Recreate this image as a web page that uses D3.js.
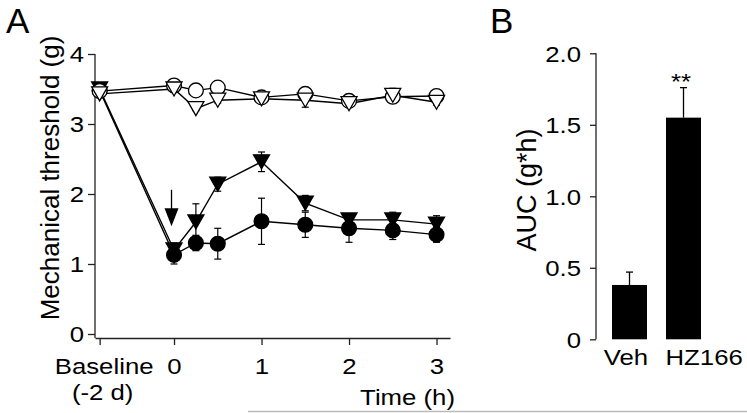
<!DOCTYPE html>
<html><head><meta charset="utf-8">
<script src="https://cdn.jsdelivr.net/npm/d3@7"></script>
<style>
body{margin:0;background:#fff}
svg{display:block}
text{font-family:"Liberation Sans",Arial,Helvetica,sans-serif;fill:#000}
</style>
</head><body>
<svg id="c" width="747" height="413"></svg>
<script>
// ---------- Panel A data ----------
const timePoints = ["Baseline", 0, 0.25, 0.5, 1, 1.5, 2, 2.5, 3];
const baselineHour = -0.85; // plotting position of the "Baseline (-2 d)" category
const filledCircle    = [3.48, 1.13, 1.30, 1.29, 1.61, 1.56, 1.51, 1.48, 1.42];
const filledCircleErr = [0.03, 0.13, 0.11, 0.22, 0.33, 0.18, 0.20, 0.13, 0.11];
const filledTri       = [3.50, 1.20, 1.60, 2.14, 2.46, 1.87, 1.63, 1.63, 1.57];
const filledTriErr    = [0.03, 0.10, 0.26, 0.10, 0.14, 0.11, 0.07, 0.11, 0.12];
const openCircle      = [3.47, 3.55, 3.48, 3.52, 3.38, 3.43, 3.33, 3.39, 3.40];
const openCircleErr   = [0.03, 0.05, 0.03, 0.03, 0.05, 0.06, 0.05, 0.05, 0.04];
const openTri         = [3.43, 3.50, 3.22, 3.34, 3.36, 3.34, 3.29, 3.41, 3.31];
const openTriErr      = [0.03, 0.05, 0.03, 0.04, 0.04, 0.10, 0.05, 0.10, 0.04];
const yTicksA = [0, 1, 2, 3, 4];
const xTickHours = [0, 1, 2, 3];
const arrowHour = 0, arrowFrom = 2.06, arrowTo = 1.54;

// ---------- Panel B data ----------
const groupsB = ["Veh", "HZ166"];
const aucB = [0.38, 1.55];
const aucErrB = [0.09, 0.21];
const yTicksB = [0, 0.5, 1.0, 1.5, 2.0];

const svg = d3.select("#c");
const AX = "#222";
const STRETCH = 1.12;
const FS = 23;

function stretchText(sel, s){
  sel.each(function(){
    const t = d3.select(this);
    const x = +t.attr("x") || 0, y = +t.attr("y") || 0;
    t.attr("x", 0).attr("y", 0).attr("transform", `translate(${x},${y}) scale(${s},1)`);
  });
}
function label(g, txt, x, y, anchor, size, s){
  return g.append("text").text(txt)
    .attr("text-anchor", anchor).attr("font-size", size)
    .attr("transform", `translate(${x},${y}) scale(${s},1)`);
}

// ===== Panel A =====
const xA = d3.scaleLinear().domain([-0.903, 3.154]).range([95, 450]);
const yA = d3.scaleLinear().domain([0, 4]).range([334, 54]);
const xAxisY = 338;
const gA = svg.append("g");
const xpos = t => xA(t === "Baseline" ? baselineHour : t);

// y axis
const yAxG = gA.append("g").attr("transform", "translate(95,0)")
  .call(d3.axisLeft(yA).tickValues(yTicksA).tickSize(7).tickPadding(4).tickFormat(d3.format("d")));
yAxG.select(".domain").remove();
yAxG.selectAll("line").attr("stroke", AX).attr("stroke-width", 1.3);
yAxG.selectAll("text").attr("font-size", FS).attr("dy", "0.34em").call(stretchText, STRETCH);
yAxG.attr("font-family", null);
gA.append("line").attr("x1", 95).attr("x2", 95).attr("y1", yA(4)).attr("y2", xAxisY)
  .attr("stroke", AX).attr("stroke-width", 1.3);

// x axis
const xAxG = gA.append("g").attr("transform", `translate(0,${xAxisY})`)
  .call(d3.axisBottom(xA).tickValues([baselineHour, ...xTickHours]).tickSize(7).tickSizeOuter(0)
    .tickFormat(d => d === baselineHour ? "Baseline" : d3.format("d")(d)));
xAxG.select(".domain").attr("stroke", AX).attr("stroke-width", 1.3);
xAxG.selectAll("line").attr("stroke", AX).attr("stroke-width", 1.3);
xAxG.selectAll("text").attr("font-size", FS).attr("dy", 0).attr("y", 36)
  .attr("x", d => d === baselineHour ? 4 : 0).call(stretchText, STRETCH);
xAxG.attr("font-family", null);
label(gA, "(-2 d)", xA(baselineHour) + 3, 400, "middle", FS, STRETCH);
label(gA, "Time (h)", 455, 405, "end", FS, STRETCH);

// y title
gA.append("text").text("Mechanical threshold (g)")
  .attr("font-size", 26).attr("text-anchor", "middle")
  .attr("transform", "translate(59,178) rotate(-90)");

// panel letter
gA.append("text").text("A").attr("x", 6).attr("y", 33).attr("font-size", 35);

// series
const series = [
  {v: filledCircle, e: filledCircleErr, shape: "circle", fill: "#000"},
  {v: filledTri,    e: filledTriErr,    shape: "tri",    fill: "#000"},
  {v: openCircle,   e: openCircleErr,   shape: "circle", fill: "#fff"},
  {v: openTri,      e: openTriErr,      shape: "tri",    fill: "#fff"}
];
const rows = s => timePoints.map((t, i) => ({t, v: s.v[i], e: s.e[i]}));
const line = d3.line().x(d => xpos(d.t)).y(d => yA(d.v));
const cap = 3.5;

const errG = gA.append("g").attr("stroke", "#000").attr("stroke-width", 1.2);
series.forEach(s => {
  rows(s).forEach(d => {
    const x = xpos(d.t), y1 = yA(d.v - d.e), y2 = yA(d.v + d.e);
    errG.append("line").attr("x1", x).attr("x2", x).attr("y1", y1).attr("y2", y2);
    errG.append("line").attr("x1", x - cap).attr("x2", x + cap).attr("y1", y1).attr("y2", y1);
    errG.append("line").attr("x1", x - cap).attr("x2", x + cap).attr("y1", y2).attr("y2", y2);
  });
});
series.forEach(s => {
  gA.append("path").datum(rows(s)).attr("d", line)
    .attr("fill", "none").attr("stroke", "#000").attr("stroke-width", 1.4);
});
series.forEach(s => {
  const g = gA.append("g");
  rows(s).forEach(d => {
    const x = xpos(d.t), y = yA(d.v);
    if (s.shape === "circle") {
      g.append("circle").attr("cx", x).attr("cy", y).attr("r", 7.4)
        .attr("fill", s.fill).attr("stroke", "#000").attr("stroke-width", 1.3);
    } else {
      g.append("path").attr("d", `M${x-8},${y-7}L${x+8},${y-7}L${x},${y+7}Z`)
        .attr("fill", s.fill).attr("stroke", "#000").attr("stroke-width", 1.3).attr("stroke-linejoin", "miter");
    }
  });
});

// arrow
{
  const ax = xA(arrowHour) - 2.5, yTop = yA(arrowFrom), yTip = yA(arrowTo);
  gA.append("line").attr("x1", ax).attr("x2", ax).attr("y1", yTop).attr("y2", yTip - 16)
    .attr("stroke", "#000").attr("stroke-width", 1.3);
  gA.append("path").attr("d", `M${ax-7},${yTip-18}L${ax+7},${yTip-18}L${ax},${yTip}Z`).attr("fill", "#000");
}

// ===== Panel B =====
const xB = d3.scalePoint().domain(groupsB).range([629.5, 683.5]);
const yB = d3.scaleLinear().domain([0, 2]).range([339.3, 53.3]);
const gB = svg.append("g");
const barW = 35;

const yAxB = gB.append("g").attr("transform", "translate(596,0)")
  .call(d3.axisLeft(yB).tickValues(yTicksB).tickSize(6).tickPadding(9)
    .tickFormat(d => d === 0 ? "0" : d3.format(".1f")(d)));
yAxB.select(".domain").remove();
yAxB.selectAll("line").attr("stroke", AX).attr("stroke-width", 1.3);
yAxB.selectAll("text").attr("font-size", FS).attr("dy", "0.34em").call(stretchText, STRETCH);
yAxB.attr("font-family", null);
gB.append("line").attr("x1", 596).attr("x2", 596).attr("y1", yB(2)).attr("y2", yB(0))
  .attr("stroke", AX).attr("stroke-width", 1.3);

groupsB.forEach((g, i) => {
  const cx = xB(g);
  const top = yB(aucB[i] + aucErrB[i]);
  gB.append("line").attr("x1", cx).attr("x2", cx).attr("y1", yB(aucB[i])).attr("y2", top)
    .attr("stroke", "#000").attr("stroke-width", 1.3);
  gB.append("line").attr("x1", cx - 3.5).attr("x2", cx + 3.5).attr("y1", top).attr("y2", top)
    .attr("stroke", "#000").attr("stroke-width", 1.3);
  gB.append("rect").attr("x", cx - barW / 2).attr("y", yB(aucB[i]))
    .attr("width", barW).attr("height", yB(0) - yB(aucB[i])).attr("fill", "#000");
});
label(gB, "Veh", xB("Veh") - 3.5, 365, "middle", FS, STRETCH);
label(gB, "HZ166", xB("HZ166") - 18, 365, "start", FS, STRETCH);
label(gB, "**", xB("HZ166") - 2.5, 89, "middle", 23, STRETCH);

gB.append("text").text("AUC (g*h)")
  .attr("font-size", 27).attr("text-anchor", "middle")
  .attr("transform", "translate(536,190) rotate(-90)");
gB.append("text").text("B").attr("x", 490).attr("y", 33).attr("font-size", 35);

// bottom gray rule
svg.append("line").attr("x1", 248).attr("x2", 747).attr("y1", 411.5).attr("y2", 411.5)
  .attr("stroke", "#bbb").attr("stroke-width", 1.5);
</script>
</body></html>
